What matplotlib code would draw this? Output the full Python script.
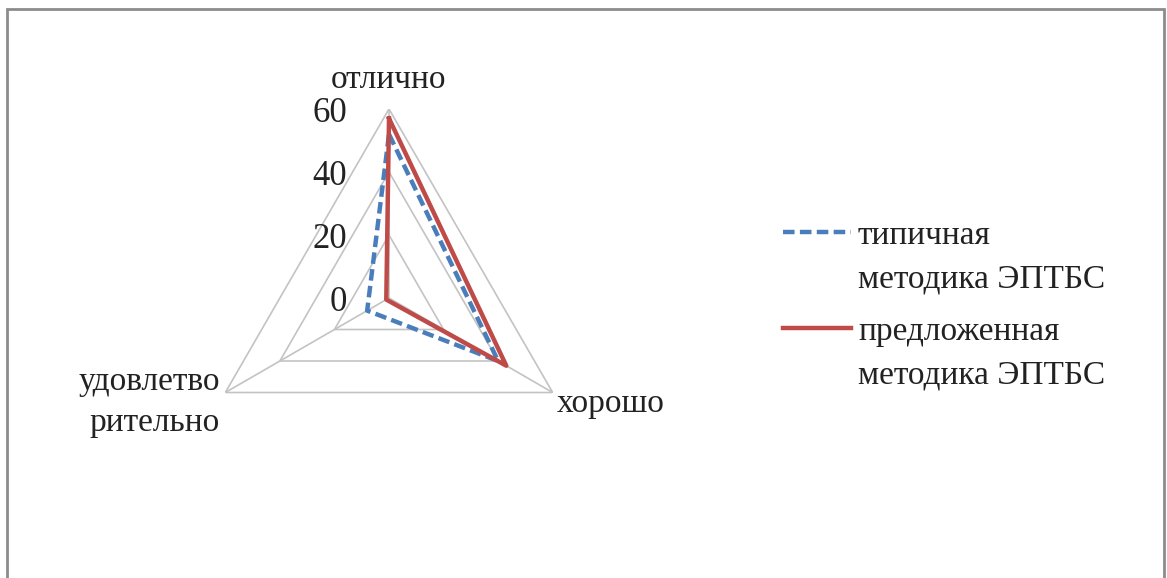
import numpy as np
import matplotlib
matplotlib.use("Agg")
import matplotlib.pyplot as plt
from matplotlib.lines import Line2D
from matplotlib.patches import Rectangle

plt.rcParams['font.family'] = ['Liberation Serif', 'DejaVu Serif']

categories = ['отлично', 'хорошо', 'удовлетво\nрительно']
typical = [52, 40, 8]
proposed = [57, 43, 1]
levels = [0, 20, 40, 60]
series_names = ['типичная\nметодика ЭПТБС', 'предложенная\nметодика ЭПТБС']

W, H = 1167, 578
fig = plt.figure(figsize=(W / 100, H / 100), dpi=100)
fig.patch.set_facecolor('white')

# outer frame of the chart area
fig.add_artist(Rectangle((7 / W, -0.05), (1164 - 7) / W, 1 - 9 / H + 0.05,
                         transform=fig.transFigure, fill=False,
                         edgecolor='#8c8c8c', lw=2))

# polar axes, centre at (389, 298) px, radius 189 px
cx, cy, rad = 389, 298, 189
ax = fig.add_axes([(cx - rad) / W, (H - cy - rad) / H, 2 * rad / W, 2 * rad / H],
                  projection='polar')
ax.set_theta_offset(np.pi / 2)
ax.set_theta_direction(-1)
ax.set_ylim(0, 60)
ax.grid(False)
ax.spines['polar'].set_visible(False)
ax.set_xticks([])
ax.set_yticks([])
ax.patch.set_alpha(0)

n = len(categories)
angles = np.linspace(0, 2 * np.pi, n, endpoint=False)
closed = np.append(angles, angles[0])

grid_col = '#c3c3c3'
for lv in levels[1:]:
    ax.plot(closed, [lv] * (n + 1), color=grid_col, lw=1.2, zorder=1)
for a in angles:
    ax.plot([a, a], [0, levels[-1]], color=grid_col, lw=1.2, zorder=1)

blue_style = dict(color='#4a7ebb', lw=3.2, linestyle=(0, (2.6, 1.2)))
red_style = dict(color='#be4b48', lw=3.2)
ax.plot(closed, typical + typical[:1], zorder=3, **blue_style)
ax.plot(closed, proposed + proposed[:1], zorder=4, **red_style)

txt = '#222222'
for lv in levels:
    ax.annotate(str(lv), xy=(0, lv), xytext=(-30, -3), textcoords='offset points',
                ha='right', va='center', fontsize=25, color=txt,
                annotation_clip=False)

ax.annotate(categories[0], xy=(angles[0], 60), xytext=(0, 15), textcoords='offset points',
            ha='center', va='baseline', fontsize=24, color=txt, annotation_clip=False)
ax.annotate(categories[1], xy=(angles[1], 60), xytext=(3, -14), textcoords='offset points',
            ha='left', va='baseline', fontsize=24, color=txt, annotation_clip=False)
ax.annotate(categories[2], xy=(angles[2], 60), xytext=(-4, -7), textcoords='offset points',
            ha='right', va='center', fontsize=24, color=txt, annotation_clip=False,
            linespacing=1.43)

# legend drawn by hand so the key sits on the first text line
leg_y = [232, 328]
for name, st, y in zip(series_names, [blue_style, red_style], leg_y):
    fig.add_artist(Line2D([783 / W, 851 / W], [1 - y / H, 1 - y / H],
                          transform=fig.transFigure, **st))
    fig.text(858 / W, 1 - (y - 12) / H, name, ha='left', va='top', fontsize=24,
             color=txt, linespacing=1.58)

fig.savefig('out.png', dpi=100, facecolor='white')
